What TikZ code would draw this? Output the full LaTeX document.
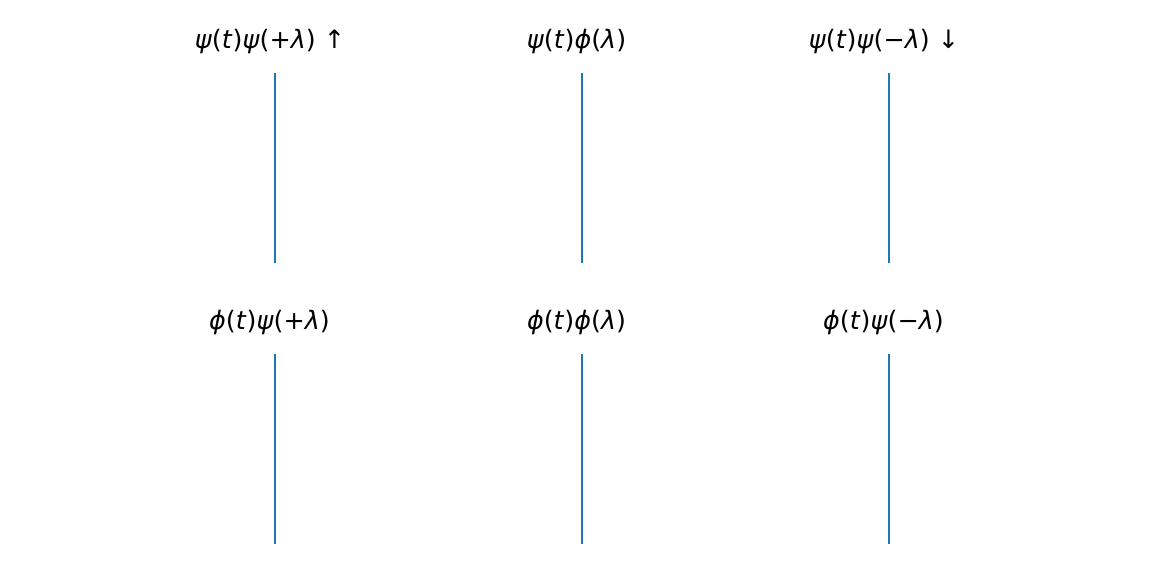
\documentclass[tikz,border=0pt]{standalone}
\usepackage{fontspec}
\setmainfont{DejaVu Sans}
\usepackage{tikz}
\definecolor{tabblue}{HTML}{1F77B4}
\newcommand{\mi}[1]{\textit{#1}}

\begin{document}
\begin{tikzpicture}[x=0.5pt,y=-0.5pt,
    title/.style={anchor=base,inner sep=0pt,font=\fontsize{12.7}{15}\selectfont},
    trace/.style={draw=tabblue,line width=0.75pt}]
    \useasboundingbox (0,0) rectangle (1152,576);
    \node[title] (tPsiUp) at (270,48.5) {\mi{ψ}(\mi{t})\mi{ψ}(+\mi{λ}) ↑};
    \node[title] (tPsiPhi) at (576.5,48.5) {\mi{ψ}(\mi{t})\mi{ϕ}(\mi{λ})};
    \node[title] (tPsiDown) at (884,48.5) {\mi{ψ}(\mi{t})\mi{ψ}(−\mi{λ}) ↓};
    \node[title] (tPhiUp) at (269.5,329.5) {\mi{ϕ}(\mi{t})\mi{ψ}(+\mi{λ})};
    \node[title] (tPhiPhi) at (576.5,329.5) {\mi{ϕ}(\mi{t})\mi{ϕ}(\mi{λ})};
    \node[title] (tPhiDown) at (883.5,329.5) {\mi{ϕ}(\mi{t})\mi{ψ}(−\mi{λ})};

    \coordinate (aTop) at (275,73);   \coordinate (aBot) at (275,263);
    \coordinate (bTop) at (582,73);   \coordinate (bBot) at (582,263);
    \coordinate (cTop) at (889,73);   \coordinate (cBot) at (889,263);
    \coordinate (dTop) at (275,354);  \coordinate (dBot) at (275,544);
    \coordinate (eTop) at (582,354);  \coordinate (eBot) at (582,544);
    \coordinate (fTop) at (889,354);  \coordinate (fBot) at (889,544);

    \path [trace] (aTop) edge (aBot);
    \path [trace] (bTop) edge (bBot);
    \path [trace] (cTop) edge (cBot);
    \path [trace] (dTop) edge (dBot);
    \path [trace] (eTop) edge (eBot);
    \path [trace] (fTop) edge (fBot);
\end{tikzpicture}
\end{document}
